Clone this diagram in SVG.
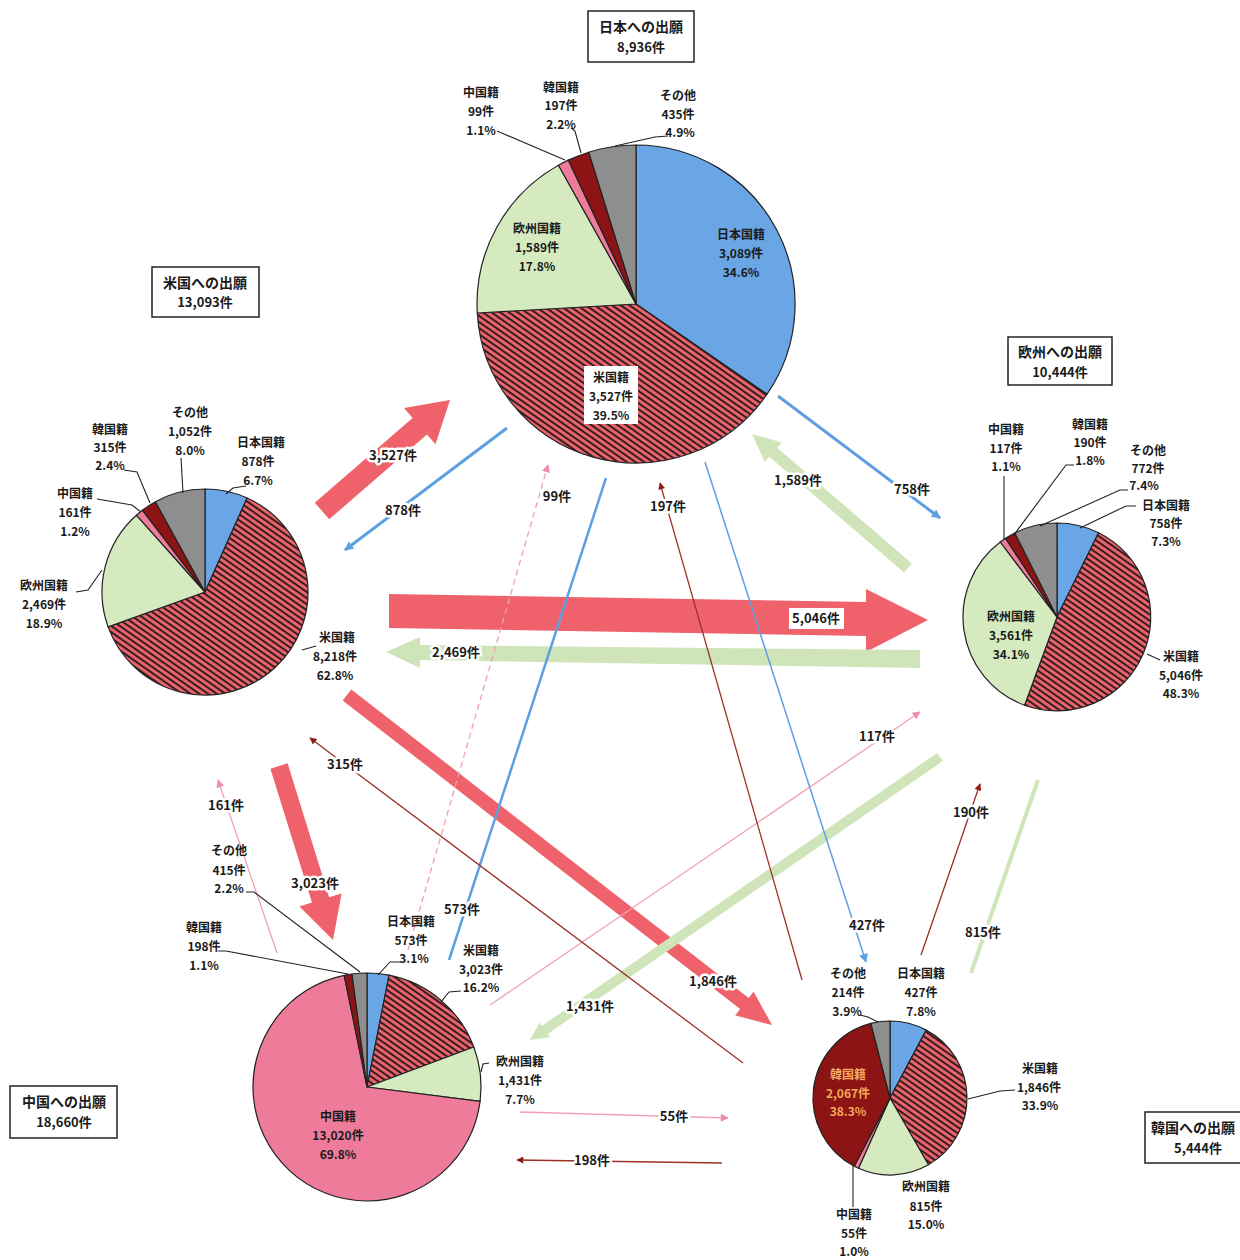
<svg xmlns="http://www.w3.org/2000/svg" width="1240" height="1260" viewBox="0 0 1240 1260">
<defs>
<style>
.t{font-family:"Noto Sans CJK JP","Noto Sans CJK SC",sans-serif;font-weight:700;font-size:12px;fill:#1a1a1a;text-anchor:middle}
.al{font-size:13px;stroke:#fff;stroke-width:5px;paint-order:stroke;stroke-linejoin:round}
.ttl{font-size:14px}
.ld{fill:none;stroke:#222;stroke-width:1.1}
.pie path{stroke:#222;stroke-width:1.2;stroke-linejoin:round}
.jp{fill:#6aa6e6}.us{fill:url(#hatch)}.eu{fill:#d5eabf}.cn{fill:#ef7b9b}.kr{fill:#8c1414}.ot{fill:#8e8e8e}
.box{fill:#fff;stroke:#222;stroke-width:1.5}
.bl{stroke:#5e9fe2;fill:none}
.pk{stroke:#f2a0b4;fill:none;stroke-width:1.3}
.dr{stroke:#9a3024;fill:none;stroke-width:1.3}
.redA{fill:#f0626b}
.grA{fill:#cfe5b9}
</style>
<pattern id="hatch" patternUnits="userSpaceOnUse" width="5" height="5" patternTransform="rotate(-55)">
<rect width="5" height="5" fill="#e8646c"/>
<rect width="2" height="5" fill="#3a1c20"/>
</pattern>
<marker id="mb" viewBox="0 0 10 10" refX="9" refY="5" markerWidth="11" markerHeight="9" markerUnits="userSpaceOnUse" orient="auto"><path d="M0,0 L10,5 L0,10 Z" fill="#5e9fe2"/></marker>
<marker id="mp" viewBox="0 0 10 10" refX="9" refY="5" markerWidth="10" markerHeight="8" markerUnits="userSpaceOnUse" orient="auto"><path d="M0,0 L10,5 L0,10 Z" fill="#f08aa5"/></marker>
<marker id="md" viewBox="0 0 10 10" refX="9" refY="5" markerWidth="8" markerHeight="7" markerUnits="userSpaceOnUse" orient="auto"><path d="M0,0 L10,5 L0,10 Z" fill="#8c1c14"/></marker>
</defs>
<rect width="1240" height="1260" fill="#fff"/>

<g id="connectors">
<polygon class="redA" points="314.8,502.7 412.6,417.9 404.1,408.1 450,400 435.5,444.3 427,434.5 329.2,519.3"/>
<polygon class="redA" points="270.4,768.7 287.6,763.3 329.1,897.2 341.6,893.4 333,940 299.5,906.4 312,902.6"/>
<polygon class="redA" points="342.7,700.5 351.3,689.5 748.7,998 753.6,991.7 772,1025 735.2,1015.4 740.1,1009.1"/>
<polygon class="redA" points="389,594 866,602 866,589 928,620 866,652 866,636 389,628"/>
<polygon class="grA" points="920,650 420,645 420,637 386,652 420,668 420,660 920,668"/>
<polygon class="grA" points="911.9,563.4 777.2,447.7 781.7,442.4 752,434 764.8,462.1 769.3,456.8 904.1,572.6"/>
<polygon class="grA" points="942.8,761.1 547.7,1033.9 549.9,1037.2 530,1040 539.7,1022.4 542,1025.7 937.2,752.9"/>
<line x1="1038" y1="780" x2="971" y2="973" stroke="#cfe5b9" stroke-width="4"/>
<line class="bl" x1="507" y1="428" x2="345" y2="550" stroke-width="3" marker-end="url(#mb)"/>
<line class="bl" x1="778" y1="396" x2="940" y2="518" stroke-width="3" marker-end="url(#mb)"/>
<line class="bl" x1="606" y1="478" x2="449" y2="960" stroke-width="2.5"/>
<line class="bl" x1="705" y1="462" x2="866" y2="962" stroke-width="1.5" marker-end="url(#mb)"/>
<line class="pk" x1="408" y1="950" x2="548" y2="465" stroke-dasharray="6 4" marker-end="url(#mp)"/>
<line class="pk" x1="490" y1="1005" x2="920" y2="712" marker-end="url(#mp)"/>
<line class="pk" x1="277" y1="953" x2="218" y2="780" marker-end="url(#mp)"/>
<line class="pk" x1="520" y1="1112" x2="728" y2="1118" marker-end="url(#mp)"/>
<line class="dr" x1="802" y1="980" x2="660" y2="483" marker-end="url(#md)"/>
<line class="dr" x1="921" y1="955" x2="980" y2="784" marker-end="url(#md)"/>
<line class="dr" x1="743" y1="1063" x2="310" y2="738" marker-end="url(#md)"/>
<line class="dr" x1="722" y1="1163" x2="517" y2="1160" marker-end="url(#md)"/>
<text class="t al" x="393" y="460">3,527件</text>
<text class="t al" x="403" y="515">878件</text>
<text class="t al" x="557" y="501">99件</text>
<text class="t al" x="668" y="511">197件</text>
<text class="t al" x="798" y="485">1,589件</text>
<text class="t al" x="912" y="494">758件</text>
<rect x="789" y="608" width="55" height="21" fill="#fff"/>
<text class="t" x="816" y="623" style="font-size:13px">5,046件</text>
<text class="t al" x="456" y="657">2,469件</text>
<text class="t al" x="877" y="741">117件</text>
<text class="t al" x="345" y="769">315件</text>
<text class="t al" x="226" y="810">161件</text>
<text class="t al" x="315" y="888">3,023件</text>
<text class="t al" x="462" y="914">573件</text>
<text class="t al" x="971" y="817">190件</text>
<text class="t al" x="867" y="930">427件</text>
<text class="t al" x="983" y="937">815件</text>
<text class="t al" x="713" y="986">1,846件</text>
<text class="t al" x="590" y="1011">1,431件</text>
<text class="t al" x="674" y="1121">55件</text>
<text class="t al" x="592" y="1165">198件</text>
</g>

<g id="node-japan">
<rect class="box" x="588" y="11" width="106" height="51"/>
<text class="t ttl" x="641" y="32">日本への出願</text>
<text class="t" x="641" y="52" style="font-size:13px">8,936件</text>
<g class="pie">
<path class="jp" d="M636,304 L636,145 A159,159 0 0 1 767,394.2 Z"/>
<path class="us" d="M636,304 L767,394.2 A159,159 0 0 1 477.3,313 Z"/>
<path class="eu" d="M636,304 L477.3,313 A159,159 0 0 1 558.5,165.2 Z"/>
<path class="cn" d="M636,304 L558.5,165.2 A159,159 0 0 1 568.3,160.1 Z"/>
<path class="kr" d="M636,304 L568.3,160.1 A159,159 0 0 1 588.8,152.2 Z"/>
<path class="ot" d="M636,304 L588.8,152.2 A159,159 0 0 1 636,145 Z"/>
</g>
<polyline class="ld" points="497,131 565,160"/>
<polyline class="ld" points="571,128 575,131 581,153"/>
<polyline class="ld" points="668,136 655,137 615,146"/>
<text class="t" x="481" y="97">中国籍</text><text class="t" x="481" y="116">99件</text><text class="t" x="481" y="135">1.1%</text>
<text class="t" x="561" y="92">韓国籍</text><text class="t" x="561" y="110">197件</text><text class="t" x="561" y="129">2.2%</text>
<text class="t" x="678" y="100">その他</text><text class="t" x="678" y="119">435件</text><text class="t" x="680" y="137">4.9%</text>
<text class="t" x="741" y="239">日本国籍</text><text class="t" x="741" y="258">3,089件</text><text class="t" x="741" y="277">34.6%</text>
<text class="t" x="537" y="233">欧州国籍</text><text class="t" x="537" y="252">1,589件</text><text class="t" x="537" y="271">17.8%</text>
<rect x="584" y="366" width="54" height="58" fill="#fff"/>
<text class="t" x="611" y="382">米国籍</text><text class="t" x="611" y="401">3,527件</text><text class="t" x="611" y="420">39.5%</text>
</g>

<g id="node-us">
<rect class="box" x="152" y="267" width="107" height="50"/>
<text class="t ttl" x="205" y="288">米国への出願</text>
<text class="t" x="205" y="307" style="font-size:13px">13,093件</text>
<g class="pie">
<path class="jp" d="M205,592 L205,489 A103,103 0 0 1 247.1,498 Z"/>
<path class="us" d="M205,592 L247.1,498 A103,103 0 1 1 108.1,626.9 Z"/>
<path class="eu" d="M205,592 L108.1,626.9 A103,103 0 0 1 136.4,515.2 Z"/>
<path class="cn" d="M205,592 L136.4,515.2 A103,103 0 0 1 142.4,510.2 Z"/>
<path class="kr" d="M205,592 L142.4,510.2 A103,103 0 0 1 155.4,501.7 Z"/>
<path class="ot" d="M205,592 L155.4,501.7 A103,103 0 0 1 205,489 Z"/>
</g>
<polyline class="ld" points="124,470 137,472 150,503"/>
<polyline class="ld" points="181,458 183,493"/>
<polyline class="ld" points="246,486 233,488 226,494"/>
<polyline class="ld" points="97,499 132,505 141,512"/>
<polyline class="ld" points="76,592 88,590 102,570"/>
<polyline class="ld" points="302,650 316,646"/>
<text class="t" x="110" y="434">韓国籍</text><text class="t" x="110" y="452">315件</text><text class="t" x="110" y="470">2.4%</text>
<text class="t" x="190" y="417">その他</text><text class="t" x="190" y="436">1,052件</text><text class="t" x="190" y="455">8.0%</text>
<text class="t" x="261" y="447">日本国籍</text><text class="t" x="258" y="466">878件</text><text class="t" x="258" y="485">6.7%</text>
<text class="t" x="75" y="498">中国籍</text><text class="t" x="75" y="517">161件</text><text class="t" x="75" y="536">1.2%</text>
<text class="t" x="44" y="590">欧州国籍</text><text class="t" x="44" y="609">2,469件</text><text class="t" x="44" y="628">18.9%</text>
<text class="t" x="337" y="642">米国籍</text><text class="t" x="335" y="661">8,218件</text><text class="t" x="335" y="680">62.8%</text>
</g>

<g id="node-europe">
<rect class="box" x="1008" y="337" width="104" height="48"/>
<text class="t ttl" x="1060" y="357">欧州への出願</text>
<text class="t" x="1060" y="377" style="font-size:13px">10,444件</text>
<g class="pie">
<path class="jp" d="M1057,617 L1057,523 A94,94 0 0 1 1098.6,532.7 Z"/>
<path class="us" d="M1057,617 L1098.6,532.7 A94,94 0 0 1 1024.6,705.2 Z"/>
<path class="eu" d="M1057,617 L1024.6,705.2 A94,94 0 0 1 1000.3,542 Z"/>
<path class="cn" d="M1057,617 L1000.3,542 A94,94 0 0 1 1005.6,538.3 Z"/>
<path class="kr" d="M1057,617 L1005.6,538.3 A94,94 0 0 1 1014.8,533 Z"/>
<path class="ot" d="M1057,617 L1014.8,533 A94,94 0 0 1 1057,523 Z"/>
</g>
<polyline class="ld" points="1004,476 1004,540"/>
<polyline class="ld" points="1074,465 1066,465 1013,536"/>
<polyline class="ld" points="1128,490 1120,490 1040,526"/>
<polyline class="ld" points="1136,506 1126,506 1080,528"/>
<polyline class="ld" points="1160,660 1147,654"/>
<text class="t" x="1006" y="434">中国籍</text><text class="t" x="1006" y="453">117件</text><text class="t" x="1006" y="471">1.1%</text>
<text class="t" x="1090" y="429">韓国籍</text><text class="t" x="1090" y="447">190件</text><text class="t" x="1090" y="465">1.8%</text>
<text class="t" x="1148" y="455">その他</text><text class="t" x="1148" y="473">772件</text><text class="t" x="1144" y="490">7.4%</text>
<text class="t" x="1166" y="510">日本国籍</text><text class="t" x="1166" y="528">758件</text><text class="t" x="1166" y="546">7.3%</text>
<text class="t" x="1011" y="621">欧州国籍</text><text class="t" x="1011" y="640">3,561件</text><text class="t" x="1011" y="659">34.1%</text>
<text class="t" x="1181" y="661">米国籍</text><text class="t" x="1181" y="680">5,046件</text><text class="t" x="1181" y="698">48.3%</text>
</g>

<g id="node-china">
<rect class="box" x="10" y="1086" width="107" height="52"/>
<text class="t ttl" x="64" y="1107">中国への出願</text>
<text class="t" x="64" y="1127" style="font-size:13px">18,660件</text>
<g class="pie">
<path class="jp" d="M367,1087 L367,973 A114,114 0 0 1 389.1,975.2 Z"/>
<path class="us" d="M367,1087 L389.1,975.2 A114,114 0 0 1 473.8,1047 Z"/>
<path class="eu" d="M367,1087 L473.8,1047 A114,114 0 0 1 480.1,1101.3 Z"/>
<path class="cn" d="M367,1087 L480.1,1101.3 A114,114 0 1 1 344.2,975.3 Z"/>
<path class="kr" d="M367,1087 L344.2,975.3 A114,114 0 0 1 352,974 Z"/>
<path class="ot" d="M367,1087 L352,974 A114,114 0 0 1 367,973 Z"/>
</g>
<polyline class="ld" points="246,892 254,892 360,972"/>
<polyline class="ld" points="218,951 226,951 348,974"/>
<polyline class="ld" points="400,962 390,962 378,975"/>
<polyline class="ld" points="461,991 449,992 441,1002"/>
<polyline class="ld" points="489,1063 483,1064 481,1072"/>
<text class="t" x="229" y="855">その他</text><text class="t" x="229" y="875">415件</text><text class="t" x="229" y="893">2.2%</text>
<text class="t" x="204" y="932">韓国籍</text><text class="t" x="204" y="951">198件</text><text class="t" x="204" y="970">1.1%</text>
<text class="t" x="411" y="926">日本国籍</text><text class="t" x="411" y="945">573件</text><text class="t" x="414" y="963">3.1%</text>
<text class="t" x="481" y="955">米国籍</text><text class="t" x="481" y="974">3,023件</text><text class="t" x="481" y="992">16.2%</text>
<text class="t" x="520" y="1066">欧州国籍</text><text class="t" x="520" y="1085">1,431件</text><text class="t" x="520" y="1104">7.7%</text>
<text class="t" x="338" y="1121">中国籍</text><text class="t" x="338" y="1140">13,020件</text><text class="t" x="338" y="1159">69.8%</text>
</g>

<g id="node-korea">
<rect class="box" x="1145" y="1112" width="110" height="51"/>
<text class="t ttl" x="1151" y="1133" style="text-anchor:start">韓国への出願</text>
<text class="t" x="1198" y="1153" style="font-size:13px">5,444件</text>
<g class="pie">
<path class="jp" d="M890,1098 L890,1021 A77,77 0 0 1 926.2,1030.1 Z"/>
<path class="us" d="M890,1098 L926.2,1030.1 A77,77 0 0 1 928.4,1164.8 Z"/>
<path class="eu" d="M890,1098 L928.4,1164.8 A77,77 0 0 1 858.5,1168.3 Z"/>
<path class="cn" d="M890,1098 L858.5,1168.3 A77,77 0 0 1 854.2,1166.2 Z"/>
<path class="kr" d="M890,1098 L854.2,1166.2 A77,77 0 0 1 870.9,1023.4 Z"/>
<path class="ot" d="M890,1098 L870.9,1023.4 A77,77 0 0 1 890,1021 Z"/>
</g>
<polyline class="ld" points="860,1015 868,1017 878,1022"/>
<polyline class="ld" points="1015,1090 1000,1091 968,1099"/>
<polyline class="ld" points="853,1166 853,1207"/>
<text class="t" x="848" y="978">その他</text><text class="t" x="848" y="997">214件</text><text class="t" x="847" y="1016">3.9%</text>
<text class="t" x="921" y="978">日本国籍</text><text class="t" x="921" y="997">427件</text><text class="t" x="921" y="1016">7.8%</text>
<text class="t" x="1040" y="1073">米国籍</text><text class="t" x="1039" y="1092">1,846件</text><text class="t" x="1040" y="1110">33.9%</text>
<text class="t" x="926" y="1191">欧州国籍</text><text class="t" x="926" y="1211">815件</text><text class="t" x="926" y="1229">15.0%</text>
<text class="t" x="854" y="1219">中国籍</text><text class="t" x="854" y="1238">55件</text><text class="t" x="854" y="1256">1.0%</text>
<text class="t" x="848" y="1079" style="fill:#f5a85a">韓国籍</text><text class="t" x="848" y="1098" style="fill:#f5a85a">2,067件</text><text class="t" x="848" y="1116" style="fill:#f5a85a">38.3%</text>
</g>
</svg>
